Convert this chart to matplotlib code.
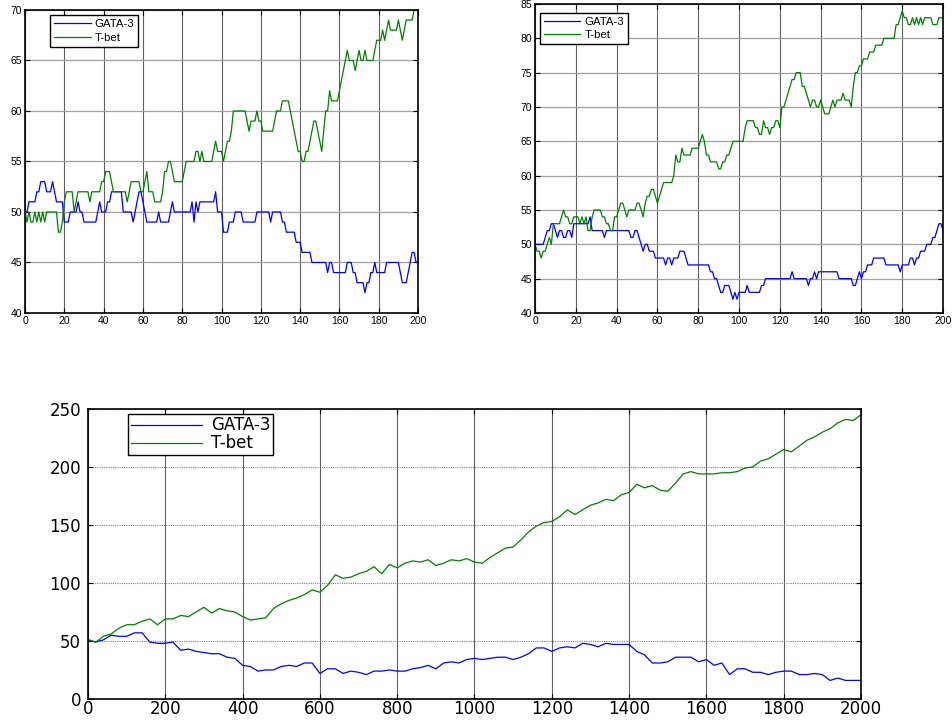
import numpy as np
import matplotlib
matplotlib.use("Agg")
import matplotlib.pyplot as plt

# ---- run 1 (200 steps) ----
run1_gata3 = [
    50, 50, 51, 51, 51, 51, 52, 52, 53, 53,
    53, 52, 52, 52, 53, 52, 51, 51, 51, 51,
    49, 49, 49, 50, 50, 50, 50, 51, 50, 50,
    49, 49, 49, 49, 49, 49, 49, 50, 51, 50,
    50, 50, 51, 51, 52, 52, 52, 52, 52, 52,
    50, 50, 50, 50, 50, 49, 50, 51, 52, 52,
    51, 50, 49, 49, 49, 49, 49, 49, 50, 49,
    49, 49, 49, 49, 50, 51, 50, 50, 50, 50,
    50, 50, 50, 50, 50, 51, 49, 51, 50, 51,
    51, 51, 51, 51, 51, 51, 51, 52, 50, 50,
    50, 48, 48, 48, 49, 49, 49, 50, 50, 50,
    50, 49, 49, 49, 49, 49, 49, 49, 50, 50,
    50, 50, 50, 50, 50, 49, 50, 50, 50, 50,
    50, 49, 49, 48, 48, 48, 48, 48, 47, 47,
    47, 46, 46, 46, 46, 46, 45, 45, 45, 45,
    45, 45, 45, 45, 44, 45, 45, 44, 44, 44,
    44, 44, 44, 44, 45, 45, 45, 44, 44, 43,
    43, 43, 43, 42, 43, 43, 44, 44, 45, 44,
    44, 44, 44, 44, 45, 45, 45, 45, 45, 45,
    45, 44, 43, 43, 43, 44, 45, 46, 46, 45,
    45,
]
run1_tbet = [
    50, 49, 50, 49, 49, 50, 49, 50, 49, 50,
    49, 50, 50, 50, 50, 50, 50, 48, 48, 49,
    51, 52, 52, 52, 52, 50, 51, 52, 52, 52,
    52, 52, 52, 51, 52, 52, 52, 52, 52, 53,
    53, 54, 54, 54, 53, 52, 52, 52, 52, 52,
    52, 52, 51, 52, 53, 53, 53, 53, 53, 52,
    52, 53, 54, 52, 52, 52, 51, 51, 51, 51,
    52, 54, 54, 55, 55, 54, 53, 53, 53, 53,
    53, 54, 55, 55, 55, 55, 55, 56, 56, 55,
    56, 55, 55, 55, 55, 55, 56, 57, 56, 56,
    56, 55, 56, 57, 57, 58, 60, 60, 60, 60,
    60, 60, 60, 59, 58, 59, 59, 59, 60, 59,
    59, 58, 58, 58, 58, 58, 58, 59, 60, 60,
    60, 61, 61, 61, 61, 60, 59, 58, 57, 56,
    56, 55, 55, 56, 56, 57, 58, 59, 59, 58,
    57, 56, 58, 60, 60, 62, 61, 61, 61, 61,
    62, 63, 64, 65, 66, 65, 65, 65, 64, 65,
    66, 65, 65, 66, 65, 65, 65, 65, 66, 67,
    67, 67, 68, 67, 68, 69, 68, 68, 68, 68,
    69, 68, 67, 68, 69, 69, 69, 69, 70, 70,
    70,
]

# ---- run 2 (200 steps) ----
run2_gata3 = [
    50, 50, 50, 50, 50, 51, 52, 52, 53, 53,
    52, 51, 52, 52, 51, 51, 52, 52, 51, 53,
    53, 53, 53, 53, 53, 53, 53, 54, 52, 52,
    52, 52, 52, 52, 51, 52, 52, 52, 52, 52,
    52, 52, 52, 52, 52, 52, 52, 51, 51, 52,
    52, 51, 50, 49, 50, 50, 49, 49, 49, 48,
    48, 48, 48, 48, 47, 48, 48, 47, 48, 48,
    48, 49, 49, 49, 48, 47, 47, 47, 47, 47,
    47, 47, 47, 47, 47, 47, 46, 46, 45, 45,
    44, 43, 43, 44, 44, 44, 43, 42, 43, 42,
    43, 43, 43, 43, 44, 43, 43, 43, 43, 43,
    43, 44, 44, 45, 45, 45, 45, 45, 45, 45,
    45, 45, 45, 45, 45, 45, 46, 45, 45, 45,
    45, 45, 45, 45, 44, 45, 45, 46, 45, 46,
    46, 46, 46, 46, 46, 46, 46, 46, 46, 45,
    45, 45, 45, 45, 45, 45, 44, 44, 45, 46,
    45, 46, 46, 47, 47, 47, 48, 48, 48, 48,
    48, 48, 47, 47, 47, 47, 47, 47, 47, 46,
    47, 47, 47, 47, 48, 48, 47, 48, 48, 49,
    49, 49, 50, 50, 50, 51, 51, 52, 53, 53,
    52,
]
run2_tbet = [
    50, 49, 49, 48, 49, 49, 50, 51, 50, 53,
    53, 53, 53, 54, 55, 54, 54, 53, 53, 54,
    54, 54, 53, 54, 53, 54, 52, 52, 54, 55,
    55, 55, 55, 54, 54, 53, 53, 52, 52, 54,
    54, 55, 56, 56, 55, 54, 55, 55, 55, 55,
    56, 56, 55, 54, 56, 57, 57, 58, 58, 57,
    56, 57, 58, 59, 59, 59, 59, 59, 60, 63,
    62, 62, 64, 63, 63, 63, 63, 64, 64, 64,
    64, 65, 66, 65, 63, 63, 62, 62, 62, 62,
    61, 61, 62, 62, 63, 63, 64, 65, 65, 65,
    65, 65, 65, 67, 68, 68, 68, 68, 67, 67,
    66, 66, 68, 67, 67, 66, 67, 67, 68, 68,
    67, 70, 70, 71, 72, 73, 74, 74, 75, 75,
    75, 73, 73, 72, 71, 70, 71, 71, 70, 70,
    71, 70, 69, 69, 69, 70, 71, 70, 71, 71,
    71, 72, 71, 71, 71, 70, 73, 75, 75, 76,
    76, 77, 77, 77, 78, 78, 78, 79, 79, 79,
    79, 80, 80, 80, 80, 80, 80, 82, 82, 83,
    84, 83, 83, 82, 82, 83, 82, 83, 82, 83,
    82, 83, 83, 83, 83, 82, 82, 82, 83, 83,
    83,
]

# ---- long run (2000 steps, recorded every 20 steps) ----
long_step = 20
long_gata3 = [
    51, 49, 51, 55, 54, 54, 57, 57, 49, 48,
    48, 49, 42, 43, 41, 40, 39, 39, 36, 35,
    29, 28, 24, 25, 25, 28, 29, 28, 31, 31,
    22, 26, 26, 22, 24, 23, 21, 24, 24, 25,
    24, 24, 26, 27, 29, 26, 31, 32, 31, 34,
    35, 34, 35, 36, 36, 34, 36, 39, 44, 44,
    41, 44, 45, 44, 48, 47, 45, 48, 47, 47,
    47, 41, 38, 31, 31, 32, 36, 36, 36, 32,
    34, 29, 31, 21, 26, 26, 23, 23, 21, 23,
    24, 24, 21, 21, 22, 21, 16, 18, 16, 16,
    16,
]
long_tbet = [
    51, 49, 54, 56, 61, 64, 64, 67, 69, 64,
    69, 69, 72, 71, 75, 79, 74, 78, 76, 75,
    71, 68, 69, 70, 78, 82, 85, 87, 90, 94,
    92, 98, 107, 104, 105, 108, 110, 114, 108, 116,
    113, 117, 119, 118, 120, 115, 117, 120, 119, 121,
    118, 117, 122, 126, 130, 131, 137, 144, 149, 152,
    153, 157, 163, 159, 163, 167, 169, 172, 171, 176,
    178, 185, 182, 184, 180, 179, 186, 194, 196, 194,
    194, 194, 195, 195, 196, 199, 200, 205, 207, 211,
    215, 213, 218, 223, 226, 230, 233, 238, 241, 240,
    245,
]

series_labels = ["GATA-3", "T-bet"]
small_xticks = list(range(0, 201, 20))
left_yticks = list(range(40, 71, 5))
right_yticks = list(range(40, 86, 5))
long_xticks = list(range(0, 2001, 200))
long_yticks = list(range(0, 251, 50))

BLUE = "#0000ff"
GREEN = "#008000"

fig = plt.figure(figsize=(9.52, 7.22), dpi=100)
fig.patch.set_facecolor("white")


def style_axes(ax, fontsize, family, dotted_h=False, xpad=2, ypad=2):
    ax.tick_params(direction="in", top=True, right=True, length=3.5,
                   width=0.8, labelsize=fontsize, colors="black")
    ax.tick_params(axis="x", pad=xpad)
    ax.tick_params(axis="y", pad=ypad)
    for lab in ax.get_xticklabels() + ax.get_yticklabels():
        lab.set_family(family)
    for s in ax.spines.values():
        s.set_linewidth(1.2)
        s.set_color("black")
    ax.xaxis.grid(True, color="#606060", linewidth=0.8, linestyle="-")
    if dotted_h:
        ax.yaxis.grid(True, color="#808080", linewidth=0.8, linestyle=(0, (1, 1)))
    else:
        ax.yaxis.grid(True, color="#a0a0a0", linewidth=0.9, linestyle="-")
    ax.set_axisbelow(True)


def small_panel(rect, gata, tbet, yticks, legend_anchor):
    ax = fig.add_axes(rect)
    steps = np.arange(len(gata))
    ax.plot(steps, gata, color=BLUE, linewidth=0.9, label=series_labels[0])
    ax.plot(steps, tbet, color=GREEN, linewidth=0.9, label=series_labels[1])
    ax.set_xlim(0, 200)
    ax.set_ylim(yticks[0], yticks[-1])
    ax.set_xticks(small_xticks)
    ax.set_yticks(yticks)
    style_axes(ax, 7.5, "Liberation Sans")
    leg = ax.legend(loc="upper left", bbox_to_anchor=legend_anchor,
                    prop={"family": "Liberation Sans", "size": 8.2},
                    handlelength=3.2, handletextpad=0.35, labelspacing=0.3,
                    borderpad=0.35, borderaxespad=0, fancybox=False,
                    framealpha=1, edgecolor="black")
    leg.get_frame().set_linewidth(1.0)
    return ax


small_panel([0.0263, 0.5665, 0.4128, 0.4197], run1_gata3, run1_tbet,
            left_yticks, (0.064, 0.983))
small_panel([0.562, 0.5665, 0.4286, 0.428], run2_gata3, run2_tbet,
            right_yticks, (0.012, 0.972))

# long run
ax3 = fig.add_axes([0.0924, 0.0319, 0.812, 0.4017])
t = np.arange(len(long_gata3)) * long_step
ax3.plot(t, long_gata3, color=BLUE, linewidth=0.9, label=series_labels[0])
ax3.plot(t, long_tbet, color=GREEN, linewidth=0.9, label=series_labels[1])
ax3.set_xlim(0, 2000)
ax3.set_ylim(0, 250)
ax3.set_xticks(long_xticks)
ax3.set_yticks(long_yticks)
style_axes(ax3, 12, "DejaVu Sans", dotted_h=True, xpad=1, ypad=5)
leg3 = ax3.legend(loc="upper left", bbox_to_anchor=(0.052, 0.983),
                  prop={"family": "DejaVu Sans", "size": 12},
                  handlelength=4.3, handletextpad=0.55, labelspacing=0.0,
                  borderpad=0.15, borderaxespad=0, fancybox=False,
                  framealpha=1, edgecolor="black")
leg3.get_frame().set_linewidth(1.0)

fig.savefig("out.png", dpi=100, facecolor="white")
